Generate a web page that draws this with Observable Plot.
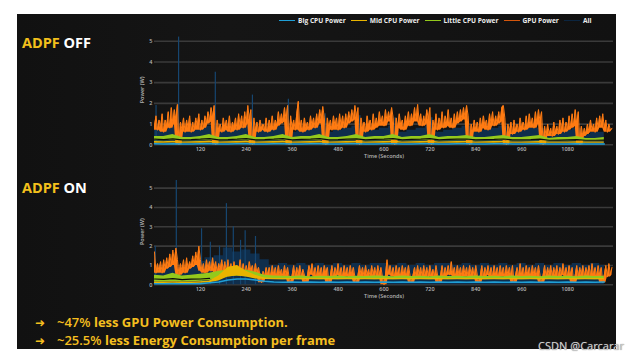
<!DOCTYPE html>
<html>
<head>
<meta charset="utf-8">
<script src="https://cdn.jsdelivr.net/npm/d3@7"></script>
<script src="https://cdn.jsdelivr.net/npm/@observablehq/plot@0.6"></script>
<style>
  html, body { margin: 0; padding: 0; background: #fff; }
  body { width: 630px; height: 357px; position: relative; overflow: hidden; font-family: "Open Sans", sans-serif; }
  #bg { position: absolute; left: 17px; top: 14px; width: 599px; height: 335px;
        background: linear-gradient(90deg, #111 0%, #151515 35%, #131313 70%, #111 100%); }
  .chart { position: absolute; left: 0; }
  .chart svg { overflow: visible; }
  #legend { position: absolute; left: 279px; top: 16px; display: flex; align-items: center;
            font: 700 6.6px "Open Sans", sans-serif; color: #ececec; white-space: nowrap; }
  #legend .item { display: flex; align-items: center; margin-right: 5px; }
  #legend .sw { width: 16px; height: 1.6px; margin-right: 3px; }
  .title { position: absolute; left: 22px; font: 700 14.5px "Open Sans", sans-serif; line-height: 14px; color: #fff; }
  .title .k { color: #f3c01c; }
  .bullet { position: absolute; left: 35px; font: 700 13px "Open Sans", sans-serif; line-height: 14px; color: #f5bf1f; white-space: nowrap; }
  .bullet .arr { display: inline-block; width: 22px; font: 700 12px "DejaVu Sans", sans-serif; }
  .bullet .n { font-weight: 600; }
  #wm { position: absolute; left: 538px; top: 338px; font: 11px "Noto Sans", sans-serif; color: #cfcfcf;
        text-shadow: 0 0 1px #666; white-space: nowrap; }
</style>
</head>
<body>
<div id="bg"></div>
<div id="chartTop" class="chart" style="top:0px"></div>
<div id="chartBot" class="chart" style="top:165px"></div>
<div id="legend"></div>
<div class="title" style="top:36px"><span class="k">ADPF</span> OFF</div>
<div class="title" style="top:181px"><span class="k">ADPF</span> ON</div>
<div class="bullet" style="top:315px"><span class="arr">➜</span><span class="n">~47%</span> less GPU Power Consumption.</div>
<div class="bullet" style="top:333px"><span class="arr">➜</span><span class="n">~25.5%</span> less Energy Consumption per frame</div>
<div id="wm">CSDN @Carcarar</div>
<script>
// ---------- data ----------
const seriesNames = ["Big CPU Power", "Mid CPU Power", "Little CPU Power", "GPU Power", "All"];
const xTicks = [120, 240, 360, 480, 600, 720, 840, 960, 1080];
const yTicks = [0, 1, 2, 3, 4, 5];
const gpuStep = 4;   // seconds between GPU samples
const cpuStep = 24;  // seconds between CPU samples

// ADPF OFF
const gpuOff = [
  0.9,1.4,0.7,1.2,0.8,1.5,0.6,1.2,0.9,1.6,0.8,1.8,1.0,1.7,1.2,1.95,0.0,1.1,0.7,1.3,0.6,1.2,0.8,1.4,0.6,
  1.1,0.7,1.3,0.9,1.5,0.7,1.2,0.8,1.4,1.0,1.6,1.1,1.8,1.3,1.9,0.0,1.2,0.7,1.0,0.6,1.3,0.8,1.2,0.7,1.4,
  0.6,1.1,0.8,1.3,0.7,1.5,0.9,1.4,0.8,1.6,1.0,1.9,1.2,1.7,0.0,1.3,0.7,1.1,0.6,1.2,0.8,1.0,0.7,1.3,0.6,
  1.2,0.8,1.4,0.7,1.2,0.9,1.6,1.0,1.5,1.1,1.8,1.2,1.9,0.0,1.4,0.8,1.2,0.7,1.5,2.1,0.7,1.2,0.6,1.3,0.8,
  1.1,0.7,1.4,0.9,1.3,0.8,1.5,1.0,1.7,1.2,1.85,1.3,0.0,1.3,0.8,1.2,0.7,1.4,0.9,1.3,0.7,1.5,0.9,1.4,0.8,
  1.5,1.0,1.6,1.1,1.7,1.2,1.9,1.3,1.8,0.0,1.3,0.8,1.1,0.6,1.4,0.9,1.2,0.7,1.5,0.8,1.3,0.9,1.6,1.0,1.4,
  0.9,1.7,1.1,1.6,1.2,1.8,1.3,0.0,1.3,0.8,1.5,0.9,1.2,0.7,1.4,1.0,1.6,0.9,1.5,1.1,1.8,1.2,1.95,1.1,1.5,
  0.9,1.4,1.0,1.7,1.2,1.8,0.0,1.2,0.8,1.5,0.7,1.3,0.9,1.6,0.8,1.4,1.0,1.7,0.9,1.3,0.8,1.5,1.0,1.6,1.1,
  1.7,1.2,1.8,1.3,1.9,1.4,0.0,1.0,0.6,1.2,0.7,1.1,0.6,1.3,0.8,1.4,0.9,1.2,0.7,1.5,1.0,1.6,0.9,1.4,1.0,
  1.6,1.1,1.8,1.9,1.3,0.0,1.0,0.6,1.1,0.5,1.2,0.7,1.0,0.6,1.3,0.8,1.1,0.7,1.4,0.8,1.5,0.9,1.3,0.8,1.6,
  1.0,1.7,1.1,1.6,0.0,0.9,0.4,1.0,0.5,0.8,0.4,1.1,0.6,0.9,0.5,1.2,0.7,1.3,0.6,1.1,0.7,1.4,0.8,1.5,0.9,
  1.7,1.0,1.6,0.0,0.9,0.4,0.8,0.5,1.0,0.6,1.2,0.7,1.0,0.6,1.3,0.8,1.4,0.9,1.5,0.8,1.2,0.6,1.0,0.7,0.8
];
const allOff = [0.8,0.7,0.9,0.6,0.7,0.8,0.9,0.6,0.7,0.8,0.9,0.6,0.7,0.8,0.9,0.6,0.7,0.8,0.9,0.6,0.7,0.8,0.9,0.6,0.7,
                0.8,0.9,0.6,0.7,0.8,0.9,0.6,0.7,0.8,0.9,0.6,0.7,0.8,0.9,0.6,0.7,0.8,0.8,0.5,0.6,0.7,0.8,0.5,0.6,0.6];
const allSpikesT_Off = [4, 63, 159, 256, 350, 446, 537, 629, 725];
const allSpikesV_Off = [1.9, 5.2, 3.5, 2.4, 2.2, 1.5, 1.4, 1.3, 1.3];
const littleHiOff = [0.4,0.4,0.5,0.35,0.35,0.4,0.5,0.35,0.35,0.4,0.5,0.35,0.35,0.4,0.5,0.35,0.4,0.4,0.5,0.35,0.35,0.4,0.5,0.35,0.4,
                     0.4,0.5,0.35,0.4,0.4,0.5,0.35,0.4,0.4,0.45,0.35,0.35,0.4,0.45,0.35,0.35,0.4,0.45,0.3,0.35,0.35,0.4,0.3,0.3,0.35];
const littleLoOff = [0.2,0.19,0.21,0.18,0.2,0.2,0.22,0.18,0.19,0.2,0.22,0.18,0.2,0.2,0.22,0.18,0.19,0.2,0.22,0.18,0.2,0.2,0.21,0.18,0.19,
                     0.2,0.22,0.18,0.2,0.2,0.22,0.18,0.19,0.2,0.21,0.18,0.19,0.2,0.21,0.18,0.18,0.19,0.2,0.17,0.18,0.18,0.19,0.17,0.17,0.18];
const darkOff = [0.27,0.25,0.29,0.24,0.25,0.27,0.3,0.24,0.25,0.27,0.3,0.24,0.25,0.27,0.3,0.24,0.26,0.27,0.3,0.24,0.25,0.27,0.29,0.24,0.26,
                 0.27,0.3,0.24,0.26,0.27,0.3,0.24,0.26,0.27,0.28,0.24,0.25,0.26,0.28,0.24,0.24,0.25,0.27,0.22,0.23,0.24,0.25,0.22,0.22,0.23];
const midHiOff = [0.16,0.15,0.17,0.14,0.15,0.16,0.18,0.14,0.15,0.16,0.18,0.14,0.15,0.16,0.18,0.14,0.15,0.16,0.18,0.14,0.15,0.16,0.17,0.14,0.15,
                  0.16,0.18,0.14,0.15,0.16,0.18,0.14,0.15,0.16,0.17,0.14,0.15,0.16,0.17,0.14,0.14,0.15,0.16,0.13,0.14,0.14,0.15,0.13,0.13,0.14];
const midLoOff = [0.08,0.08,0.09,0.07,0.08,0.08,0.09,0.07,0.08,0.08,0.09,0.07,0.08,0.08,0.09,0.07,0.08,0.08,0.09,0.07,0.08,0.08,0.09,0.07,0.08,
                  0.08,0.09,0.07,0.08,0.08,0.09,0.07,0.08,0.08,0.09,0.07,0.08,0.08,0.09,0.07,0.07,0.08,0.08,0.07,0.07,0.07,0.08,0.07,0.07,0.07];
const bigOff = [0.05,0.04,0.05,0.04,0.04,0.05,0.05,0.04,0.04,0.05,0.05,0.04,0.04,0.05,0.05,0.04,0.04,0.05,0.05,0.04,0.04,0.05,0.05,0.04,0.04,
                0.05,0.05,0.04,0.04,0.05,0.05,0.04,0.04,0.05,0.05,0.04,0.04,0.05,0.05,0.04,0.04,0.05,0.05,0.04,0.04,0.04,0.05,0.04,0.04,0.04];

// ADPF ON
const gpuOn = [
  1.7,0.6,1.1,0.7,1.2,0.6,1.3,0.8,1.4,0.9,1.6,1.0,1.8,1.2,1.9,1.3,0.5,1.1,0.7,1.3,0.6,1.4,0.8,1.2,0.9,
  1.5,1.0,1.7,1.2,2.0,1.3,0.7,1.1,0.6,1.3,0.8,1.2,0.7,1.4,0.8,1.2,0.6,1.1,0.8,1.3,0.7,1.2,0.6,1.3,0.7,
  1.1,0.5,1.2,0.6,1.0,0.7,1.3,0.6,1.1,0.5,1.0,0.6,1.2,0.7,1.0,0.5,1.1,0.6,0.9,0.5,0.1,0.7,0.4,0.9,0.5,
  0.9,0.4,1.0,0.5,0.9,0.4,1.0,0.5,0.8,0.4,1.0,0.5,0.9,0.4,0.1,0.5,1.0,0.4,0.9,0.5,1.0,0.4,0.8,0.5,0.1,
  0.5,1.0,0.6,1.1,0.5,0.9,0.4,1.0,0.5,0.9,0.4,1.0,0.6,0.9,0.1,0.5,1.0,0.4,0.9,0.5,1.1,0.5,0.9,0.4,1.0,
  0.5,0.9,0.4,1.0,0.5,0.9,0.4,0.1,0.5,1.0,0.5,0.9,0.4,1.0,0.5,0.8,0.4,1.0,0.5,0.9,0.4,1.0,0.5,0.9,0.4,
  0.0,0.5,1.3,0.6,1.0,0.5,0.9,0.4,1.0,0.5,0.9,0.4,1.0,0.5,0.9,0.4,1.0,0.5,0.1,0.5,0.9,0.4,1.0,0.5,0.9,
  0.4,1.0,0.5,0.9,0.4,1.0,0.5,0.8,0.4,1.0,0.5,0.1,0.5,1.0,0.4,0.9,0.5,1.0,0.5,1.2,0.5,0.9,0.4,1.0,0.5,
  0.9,0.4,1.0,0.5,0.9,0.4,1.0,0.5,0.9,0.4,1.0,0.5,0.1,0.5,1.0,0.4,0.9,0.5,1.0,0.5,0.9,0.4,1.0,0.5,0.9,
  0.4,1.0,0.5,0.9,0.4,1.0,0.5,0.9,0.4,1.0,0.1,0.5,0.9,0.4,1.1,0.5,0.9,0.4,1.0,0.5,0.9,0.4,1.0,0.5,0.9,
  0.4,1.0,0.5,0.1,0.5,1.0,0.4,0.9,0.5,1.0,0.4,0.9,0.5,1.0,0.4,0.9,0.5,1.1,0.5,0.9,0.4,1.0,0.5,0.9,0.1,
  0.5,1.0,0.4,0.9,0.5,1.0,0.4,0.9,0.5,1.0,0.4,1.1,0.5,0.9,0.4,1.0,0.5,0.9,0.1,0.5,1.0,0.4,1.1,0.5,0.9
];
const allOn = [1.0,0.9,1.1,0.9,1.0,1.2,1.4,1.5,1.9,1.7,1.8,1.6,1.3,1.0,1.1,1.0,1.1,1.0,1.1,1.0,1.1,1.0,1.1,1.0,1.1,
               1.1,1.0,1.1,1.0,1.1,1.0,1.1,1.1,1.0,1.1,1.0,1.1,1.0,1.1,1.0,1.1,1.0,1.1,1.0,1.1,1.0,1.1,1.0,1.1,1.0];
const allSpikesT_On = [2, 57, 123, 146, 170, 188, 206, 225, 237, 264];
const allSpikesV_On = [2.0, 5.4, 2.9, 2.2, 2.0, 4.2, 3.0, 2.3, 2.8, 2.5];
const littleHiOn = [0.5,0.45,0.6,0.45,0.5,0.55,0.6,0.7,0.75,0.8,0.75,0.65,0.5,0.45,0.44,0.43,0.45,0.42,0.44,0.43,0.45,0.42,0.44,0.43,0.45,
                    0.44,0.42,0.45,0.43,0.44,0.42,0.45,0.43,0.44,0.42,0.45,0.43,0.44,0.42,0.45,0.43,0.44,0.42,0.45,0.43,0.44,0.42,0.45,0.43,0.44];
const littleLoOn = [0.15,0.15,0.17,0.15,0.16,0.18,0.22,0.35,0.4,0.45,0.42,0.38,0.3,0.27,0.26,0.27,0.26,0.27,0.26,0.27,0.26,0.27,0.26,0.27,0.26,
                    0.27,0.26,0.27,0.26,0.27,0.26,0.27,0.26,0.27,0.26,0.27,0.26,0.27,0.26,0.27,0.26,0.27,0.26,0.27,0.26,0.27,0.26,0.27,0.26,0.27];
const darkOn = [0.3,0.28,0.32,0.27,0.29,0.3,0.33,null,null,null,null,null,null,null,null,null,null,null,null,null,null,null,null,null,null,
                null,null,null,null,null,null,null,null,null,null,null,null,null,null,null,null,null,null,null,null,null,null,null,null,null];
const midHiOn = [0.15,0.14,0.16,0.14,0.15,0.16,0.2,0.45,0.9,1.0,0.7,0.5,0.35,0.33,0.32,0.33,0.32,0.33,0.32,0.33,0.32,0.33,0.32,0.33,0.32,
                 0.33,0.32,0.33,0.32,0.33,0.32,0.33,0.32,0.33,0.32,0.33,0.32,0.33,0.32,0.33,0.32,0.33,0.32,0.33,0.32,0.33,0.32,0.33,0.32,0.33];
const midLoOn = [0.07,0.07,0.08,0.07,0.07,0.08,0.1,0.2,0.4,0.45,0.4,0.3,0.27,0.26,0.26,0.26,0.26,0.26,0.26,0.26,0.26,0.26,0.26,0.26,0.26,
                 0.26,0.26,0.26,0.26,0.26,0.26,0.26,0.26,0.26,0.26,0.26,0.26,0.26,0.26,0.26,0.26,0.26,0.26,0.26,0.26,0.26,0.26,0.26,0.26,0.26];
const bigOn = [0.05,0.05,0.06,0.05,0.05,0.06,0.1,0.15,0.25,0.3,0.3,0.25,0.18,0.14,0.13,0.14,0.13,0.14,0.13,0.14,0.13,0.14,0.13,0.14,0.13,
               0.14,0.13,0.14,0.13,0.14,0.13,0.14,0.13,0.14,0.13,0.14,0.13,0.14,0.13,0.14,0.13,0.14,0.13,0.14,0.13,0.14,0.13,0.14,0.13,0.14];

// ---------- styles ----------
const colors = { big: "#1f9fd6", mid: "#e8b400", little: "#93c91c", gpu: "#ff7b12", all: "#0f2e4c", allSpike: "#164670", dark: "#0c0c0c" };

// legend
const legendColors = [colors.big, colors.mid, colors.little, "#d4560c", "#0b2540"];
const legend = document.getElementById("legend");
seriesNames.forEach((name, i) => {
  const it = document.createElement("div"); it.className = "item";
  const sw = document.createElement("div"); sw.className = "sw"; sw.style.background = legendColors[i];
  const tx = document.createElement("span"); tx.textContent = name;
  it.append(sw, tx); legend.append(it);
});

function build(gpu, all, spT, spV, lHi, lLo, dark, mHi, mLo, big, yMax, height, mTop, mBottom) {
  // GPU samples; the band under the zig-zag is filled down to the local minimum of neighbouring samples
  const gpuData = gpu.map((v, i) => ({ t: i * gpuStep, v, lo: d3.min(gpu.slice(Math.max(0, i - 2), i + 3)) }));
  const cpu = all.map((v, i) => ({ t: i * cpuStep, all: v, lHi: lHi[i], lLo: lLo[i], dark: dark[i], mHi: mHi[i], mLo: mLo[i], big: big[i] }));
  const spikes = spT.map((t, i) => ({ t, v: spV[i] }));
  return Plot.plot({
    width: 630, height,
    marginLeft: 154, marginRight: 17, marginTop: mTop, marginBottom: mBottom,
    style: { background: "transparent", color: "#b5b5b5", fontSize: "5.5px", fontFamily: "Open Sans, sans-serif", fontWeight: 600 },
    x: { domain: [0, 1200] },
    y: { domain: [0, yMax] },
    marks: [
      Plot.gridY(yTicks, { stroke: "#3a3a3a", strokeOpacity: 1, strokeWidth: 1.6 }),
      Plot.areaY(cpu, { x: "t", y: "all", fill: colors.all, curve: "step" }),
      Plot.ruleX(spikes, { x: "t", y1: 0, y2: "v", stroke: colors.allSpike, strokeWidth: 1.2 }),
      Plot.areaY(gpuData, { x: "t", y1: "lo", y2: "v", fill: colors.gpu }),
      Plot.lineY(gpuData, { x: "t", y: "v", stroke: colors.gpu, strokeWidth: 1 }),
      Plot.areaY(cpu, { x: "t", y1: "lLo", y2: "lHi", fill: colors.little }),
      Plot.lineY(cpu, { x: "t", y: "dark", stroke: colors.dark, strokeWidth: 1.2 }),
      Plot.areaY(cpu, { x: "t", y1: "mLo", y2: "mHi", fill: colors.mid }),
      Plot.lineY(cpu, { x: "t", y: "big", stroke: colors.big, strokeWidth: 1.5 }),
      Plot.axisY(yTicks, { tickSize: 0, tickPadding: 2, label: "Power (W)", labelAnchor: "center", labelArrow: "none", labelOffset: 14 }),
      Plot.axisX(xTicks, { tickSize: 0, tickPadding: 2, tickFormat: d => String(d), label: "Time (Seconds)", labelAnchor: "center", labelArrow: "none", labelOffset: 13 })
    ]
  });
}

document.getElementById("chartTop").append(
  build(gpuOff, allOff, allSpikesT_Off, allSpikesV_Off, littleHiOff, littleLoOff, darkOff, midHiOff, midLoOff, bigOff, 5.3, 165, 34.5, 20.7));
document.getElementById("chartBot").append(
  build(gpuOn, allOn, allSpikesT_On, allSpikesV_On, littleHiOn, littleLoOn, darkOn, midHiOn, midLoOn, bigOn, 5.5, 140, 13, 20.7));
</script>
</body>
</html>
